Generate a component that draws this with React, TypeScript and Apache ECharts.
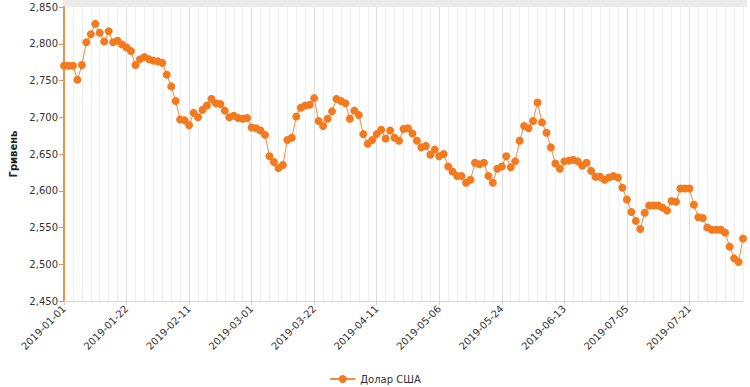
import React, { useEffect, useRef } from "react";
import * as echarts from "echarts";

const dayLabels: string[] = [
  "01-01", "01-02", "01-03", "01-04", "01-08", "01-09", "01-10", "01-11", "01-14", "01-15", "01-16", "01-17", "01-18", "01-21",
  "01-22", "01-23", "01-24", "01-25", "01-28", "01-29", "01-30", "01-31", "02-01", "02-04", "02-05", "02-06", "02-07", "02-08",
  "02-11", "02-12", "02-13", "02-14", "02-15", "02-18", "02-19", "02-20", "02-21", "02-22", "02-25", "02-26", "02-27", "02-28",
  "03-01", "03-04", "03-05", "03-06", "03-07", "03-11", "03-12", "03-13", "03-14", "03-15", "03-18", "03-19", "03-20", "03-21",
  "03-22", "03-25", "03-26", "03-27", "03-28", "03-29", "04-01", "04-02", "04-03", "04-04", "04-05", "04-08", "04-09", "04-10",
  "04-11", "04-12", "04-15", "04-16", "04-17", "04-18", "04-19", "04-22", "04-23", "04-24", "04-25", "04-26", "04-30", "05-03",
  "05-06", "05-07", "05-08", "05-09", "05-10", "05-13", "05-14", "05-15", "05-16", "05-17", "05-20", "05-21", "05-22", "05-23",
  "05-24", "05-27", "05-28", "05-29", "05-30", "05-31", "06-03", "06-04", "06-05", "06-06", "06-07", "06-10", "06-11", "06-12",
  "06-13", "06-14", "06-18", "06-19", "06-20", "06-21", "06-24", "06-25", "06-26", "06-27", "07-01", "07-02", "07-03", "07-04",
  "07-05", "07-06", "07-08", "07-09", "07-10", "07-11", "07-12", "07-13", "07-15", "07-16", "07-17", "07-18", "07-19", "07-20",
  "07-21", "07-22", "07-23", "07-24", "07-25", "07-26", "07-29", "07-30", "07-31", "08-01", "08-02", "08-05", "08-06",
];
const categories: string[] = dayLabels.map((d) => "2019-" + d);

const seriesName = "Долар США";
const usdRate: number[] = [
  2770, 2770, 2770, 2751, 2771, 2802, 2813, 2827, 2815, 2803, 2817, 2802, 2804, 2799,
  2795, 2790, 2771, 2779, 2782, 2779, 2777, 2776, 2774, 2758, 2742, 2722, 2697, 2696,
  2689, 2706, 2700, 2710, 2716, 2725, 2719, 2718, 2709, 2700, 2702, 2699, 2698, 2699,
  2686, 2685, 2682, 2676, 2647, 2639, 2631, 2635, 2669, 2672, 2701, 2713, 2716, 2717,
  2726, 2695, 2688, 2698, 2708, 2725, 2722, 2719, 2698, 2709, 2703, 2677, 2664, 2669,
  2677, 2683, 2671, 2682, 2672, 2668, 2684, 2685, 2678, 2668, 2659, 2661, 2649, 2656,
  2647, 2650, 2633, 2626, 2620, 2620, 2611, 2615, 2638, 2636, 2638, 2620, 2611, 2630,
  2633, 2647, 2632, 2640, 2668, 2688, 2685, 2695, 2720, 2693, 2679, 2659, 2637, 2630,
  2640, 2641, 2642, 2640, 2634, 2638, 2627, 2619, 2619, 2615, 2618, 2620, 2618, 2604,
  2588, 2571, 2559, 2548, 2570, 2580, 2580, 2580, 2577, 2573, 2586, 2585, 2603, 2603,
  2603, 2581, 2564, 2563, 2550, 2547, 2547, 2547, 2543, 2524, 2508, 2503, 2535,
];

const yMin = 2450;
const yMax = 2850;
const yStep = 50;
const yAxisName = "Гривень";

const fmt = (v: number) => String(v).replace(/\B(?=(\d{3})+(?!\d))/g, ",");

export default function App() {
  const ref = useRef<HTMLDivElement>(null);
  useEffect(() => {
    if (!ref.current) return;
    const chart = echarts.init(ref.current, undefined, { renderer: "svg" });
    const font = "DejaVu Sans, Verdana, sans-serif";
    chart.setOption({
      animation: false,
      textStyle: { fontFamily: font },
      graphic: [
        {
          type: "rect",
          shape: { x: 63, y: 0, width: 684, height: 7 },
          style: { fill: "#ebebeb" },
          silent: true,
          z: -1,
        },
      ],
      grid: { left: 64, right: 7, top: 7, bottom: 86 },
      legend: {
        data: [seriesName],
        top: 369,
        left: "center",
        itemWidth: 25,
        itemHeight: 10,
        textStyle: { fontSize: 10, color: "#333", fontFamily: font },
      },
      xAxis: [
        {
          type: "category",
          data: categories,
          boundaryGap: false,
          axisLine: { lineStyle: { color: "#d6d6d6" } },
          axisTick: { show: true, interval: 13, length: 4, lineStyle: { color: "#cfcfcf" } },
          axisLabel: {
            interval: 13,
            rotate: 45,
            fontSize: 10,
            color: "#333",
            fontFamily: font,
            margin: 6,
          },
          splitLine: { show: true, interval: 1, lineStyle: { color: "#eeeeee", width: 1 } },
        },
        {
          type: "category",
          data: categories,
          boundaryGap: false,
          position: "top",
          axisLine: { show: false },
          axisTick: { show: false },
          axisLabel: { show: false },
          splitLine: { show: true, interval: 13, lineStyle: { color: "#dedede", width: 1 } },
        },
      ],
      yAxis: {
        type: "value",
        min: yMin,
        max: yMax,
        interval: yStep,
        name: yAxisName,
        nameLocation: "middle",
        nameRotate: 90,
        nameGap: 46,
        nameTextStyle: { fontSize: 10, fontWeight: "bold", color: "#222", fontFamily: font },
        axisLine: { show: true, lineStyle: { color: "#e8944f", width: 2 } },
        axisTick: { show: true, length: 5, lineStyle: { color: "#e8944f" } },
        axisLabel: { fontSize: 10, color: "#333", formatter: (v: number) => fmt(v), margin: 6, fontFamily: font },
        splitLine: { show: false },
      },
      series: [
        {
          name: seriesName,
          type: "line",
          data: usdRate,
          xAxisIndex: 0,
          symbol: "circle",
          symbolSize: 8,
          showSymbol: true,
          showAllSymbol: true,
          lineStyle: { color: "#f08a3c", width: 1 },
          itemStyle: { color: "#f47a1f" },
        },
      ],
    });
    return () => chart.dispose();
  }, []);
  return (
    <div
      ref={ref}
      style={{ position: "fixed", left: 0, top: 0, width: 750, height: 387, background: "#fff" }}
    />
  );
}
